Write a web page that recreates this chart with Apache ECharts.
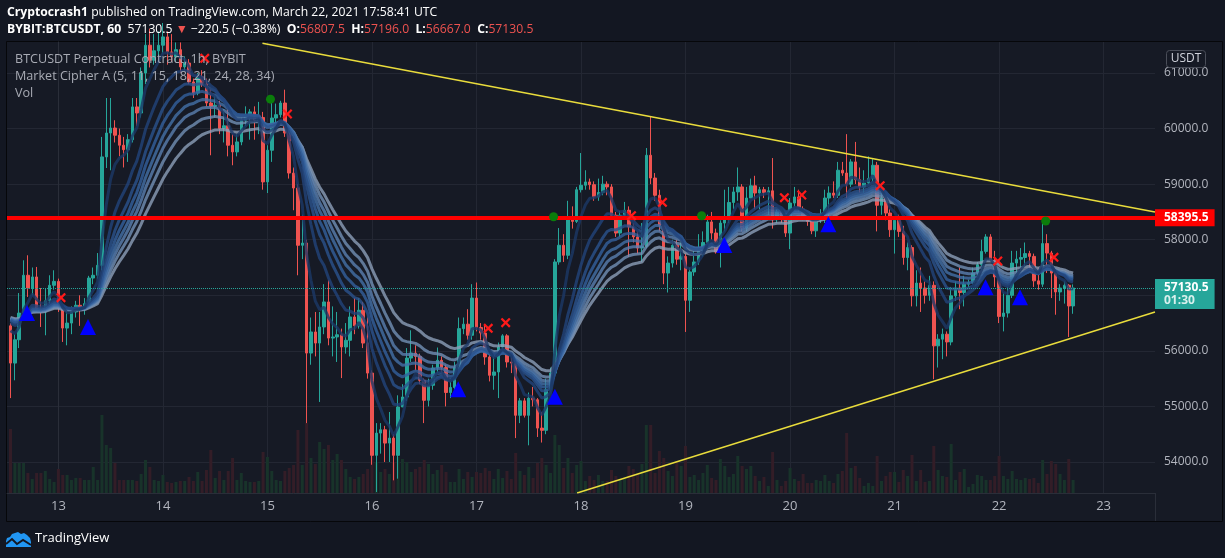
<!DOCTYPE html>
<html><head><meta charset="utf-8">
<script src="https://cdn.jsdelivr.net/npm/echarts@6.0.0/dist/echarts.min.js"></script>
<style>html,body{margin:0;padding:0;background:#131722;}#c{width:1225px;height:558px;}</style>
</head><body><div id="c"></div><script>
// hour offsets relative to March 13 00:00 UTC; first candle is March 12 13:00
const firstHour = -11;
// [open, close, low, high] hourly
const candles = [
[56450,55780,55150,56500],[55780,56200,55470,56300],[56200,56680,56050,57040],[56680,57360,56600,57630],
[57360,57130,56970,57720],[57130,57330,57000,57500],[57330,56740,56700,57510],[56740,56700,56430,57130],
[56700,56900,56280,57130],[56900,57180,56850,57360],[57180,57250,57100,57450],
[57250,56770,56700,57300],[56770,56410,56160,56850],[56410,56500,56100,56800],[56500,56700,56300,56800],
[56700,56820,56600,56900],[56820,56770,56450,57000],[56770,56850,56650,56950],[56850,57310,56800,57350],
[57310,57360,57200,57500],[57360,57540,57300,57760],[57540,59490,57450,59850],[59490,59920,59290,60550],
[59920,60010,59250,60550],[60010,59880,59750,60150],[59880,59700,59500,60000],[59700,59620,59300,59850],
[59620,59800,59400,59900],[59800,60390,59750,60550],[60390,60280,60050,60550],[60280,61000,60200,61100],
[61000,61500,60800,61700],[61500,61230,61100,61800],[61230,61400,61150,61700],[61400,61500,61300,61750],
[61500,61650,61350,61900],[61650,61380,61150,61750],[61380,61290,61200,61700],[61290,61420,61200,61550],
[61420,61110,61000,61550],[61110,61180,61050,61300],[61180,60840,60800,61250],[60840,60640,60550,60900],
[60640,60930,60600,61000],[60930,60800,60750,61050],[60800,60460,60400,60900],[60460,60400,59520,60700],
[60400,60420,60200,60600],[60420,60000,59900,60500],[60000,60050,59750,60350],[60050,59700,59500,60400],
[59700,59580,59340,59900],[59580,59760,59500,59900],[59760,60150,59700,60200],[60150,60220,60050,60400],
[60220,60300,59800,60350],[60300,60150,59800,60400],[60150,60200,59900,60480],[60200,59040,58900,60300],
[59040,59610,58840,59700],[59610,60190,59400,60510],[60190,60250,60100,60450],[60250,60460,60200,60500],
[60460,59920,59850,60700],[59920,59200,59100,60000],[59200,58930,58530,59300],[58930,57900,57360,59000],
[57900,57940,57650,58450],[57940,55960,54700,58000],[55960,56340,55750,56600],[56340,56140,55900,56700],
[56140,56430,55080,56700],[56430,56880,56300,57200],[56880,56230,56100,57270],[56230,56250,55900,56800],
[56250,56290,55800,56700],[56290,56070,55510,56400],[56070,56190,55950,56500],[56190,56610,55900,56800],
[56610,56450,56300,56950],[56450,56730,56400,56950],[56730,56140,56050,56880],[56140,55600,55500,56600],
[55600,54120,53950,55650],[54120,54520,53460,54700],[54520,54580,54150,54700],[54580,54340,54000,54650],
[54340,54430,54000,54900],[54430,54120,53670,54500],[54120,54990,53700,55200],[54990,55170,54990,55400],
[55170,55870,55100,56050],[55870,55960,55800,56370],[55960,55900,55650,56100],[55900,55470,55400,55950],
[55470,55110,54700,55500],[55110,55380,55000,55500],[55380,55690,55300,55750],[55690,55830,55600,56060],
[55830,55700,55600,55900],[55700,55250,55000,55750],[55250,55340,55150,55500],[55340,55700,55300,55800],
[55700,56400,55650,56600],[56400,56480,56300,56600],[56480,56280,56200,56750],[56280,56950,56200,57200],
[56950,56420,56350,57230],[56420,56320,56200,56500],[56320,55890,55750,56450],[55890,55560,55450,55950],
[55560,55620,55300,55900],[55620,56070,55150,56150],[56070,56270,55950,56300],[56270,55800,55700,56300],
[55800,55780,55600,55900],[55780,54840,54430,55800],[54840,55100,54700,55150],[55100,54840,54800,55150],
[54840,55150,54300,55250],[55150,55120,55000,55350],[55120,54610,54450,55150],[54610,54570,54350,54900],
[54570,55300,54500,55500],[55300,55600,55250,55700],[55600,57600,55500,57650],[57600,57900,57550,58210],
[57900,57720,57600,58100],[57720,58410,57650,58700],[58410,58330,58200,58600],[58330,58900,58300,58950],
[58900,58980,58850,59560],[58980,59040,58900,59250],[59040,58990,58900,59100],[58990,58770,58700,59050],
[58770,58850,58700,59100],[58850,59000,58800,59150],[59000,58950,58800,59050],[58950,58440,58400,59000],
[58440,58120,58050,58500],[58120,58440,58050,58520],[58440,58530,58400,58680],[58530,58230,57690,58600],
[58230,58050,57950,58300],[58050,57850,57750,58150],[57850,57880,57600,58300],[57880,59520,57850,59650],
[59520,59110,59000,60210],[59110,58800,58700,59200],[58800,58260,58150,58900],[58260,57400,57200,58400],
[57400,57580,57050,57700],[57580,57900,57500,58000],[57900,57650,57550,58000],[57650,57700,57450,57950],
[57700,56910,56340,57750],[56910,57420,56700,57500],[57420,57600,57350,57800],[57600,57810,57550,58100],
[57810,57950,57700,58150],[57950,58320,57850,58450],[58320,58120,58000,58500],[58120,57780,57750,58200],
[57780,58300,57500,58350],[58300,58360,58150,58900],[58360,58670,58300,58950],[58670,58860,58550,58950],
[58860,58950,58700,59300],[58950,58210,58150,59000],[58210,58750,58150,58950],[58750,58970,58750,59100],
[58970,58840,58550,59150],[58840,58900,58550,58950],[58900,58850,58750,58950],[58850,58880,58450,58950],
[58880,58360,58200,59470],[58360,58500,58300,58550],[58500,58400,58300,58550],[58400,58120,58050,58450],
[58120,58660,57830,58750],[58660,58770,58550,58950],[58770,58550,58500,58900],[58550,58410,58350,58600],
[58410,58330,58250,58450],[58330,58160,58100,58400],[58160,58350,58050,58450],[58350,58450,58300,58550],
[58450,58750,58300,58900],[58750,58840,58400,58960],[58840,58800,58750,59050],[58800,59250,58750,59400],
[59250,59200,59150,59400],[59200,59000,58750,59900],[59000,59400,58950,59450],[59400,59080,59000,59760],
[59080,58950,58850,59300],[58950,59020,58850,59250],[59020,59100,59000,59500],[59100,59340,59050,59450],
[59340,58620,58150,59400],[58620,58750,58450,58850],[58750,58480,58350,58800],[58480,58180,58050,58550],
[58180,58350,57750,58400],[58350,58150,58050,58450],[58150,57680,57550,58250],[57680,57860,57450,57950],
[57860,56990,56800,57900],[56990,57220,56800,57450],[57220,57130,56700,57500],[57130,57000,56850,57250],
[57000,57180,56900,57350],[57180,56090,55490,57250],[56090,56210,55700,56300],[56210,56300,55850,56400],
[56300,56160,55900,56350],[56160,56990,56100,57150],[56990,57130,56900,57250],[57130,57050,56750,57500],
[57050,57200,56800,57350],[57200,57230,57150,57280],[57230,57400,57200,57500],[57400,57550,57350,57600],
[57550,57790,57450,58000],[57790,58050,57750,58100],[58050,57630,57600,58100],[57630,57330,57150,57800],
[57330,56620,56500,57350],[56620,56680,56350,57050],[56680,57000,56600,57150],[57000,57580,56950,57800],
[57580,57650,57400,57800],[57650,57680,57450,57850],[57680,57750,57500,57950],[57750,57700,57450,57800],
[57700,57260,57150,57750],[57260,57200,57100,57500],[57200,57930,57150,58320],[57930,57760,57400,58100],
[57760,57400,56950,57800],[57400,57060,56650,57450],[57060,57130,56900,57200],[57130,57180,56850,57250],
[57180,56807.5,56250,57200],[56807.5,57130.5,56667,57196]
];
// relative volume per candle (arbitrary units)
const volumes = [
64,30,30,30,20,14,20,20,22,14,11,
24,18,18,13,15,15,13,13,26,13,
78,48,45,30,13,13,13,13,12,19,
33,26,13,12,18,11,10,11,12,12,
16,12,21,12,23,43,15,22,13,22,
35,13,20,12,11,11,12,41,36,22,
13,12,22,25,28,63,28,70,35,29,
51,44,48,33,39,33,24,16,14,16,
19,24,71,31,21,24,19,31,36,34,
31,21,24,26,33,29,19,23,28,21,
11,11,24,14,21,16,21,20,25,22,
14,24,15,22,14,40,22,18,26,15,
30,35,28,20,58,48,25,35,20,28,
32,12,17,13,18,12,12,23,17,13,
14,27,24,18,29,68,68,20,42,35,
22,17,32,27,47,16,18,13,20,28,
15,13,34,27,16,19,37,27,24,27,
17,12,16,7,41,13,7,12,25,14,
12,19,10,10,13,12,18,12,10,19,
22,60,25,27,15,7,10,7,37,12,
17,21,21,11,23,17,38,12,23,11,
12,47,23,17,16,49,13,21,24,6,
9,18,17,13,13,17,37,17,14,22,
14,13,15,14,15,10,33,19,32,29,
19,13,34,13
];
const dayTicks = [0,24,48,72,96,120,144,168,192,216,240];
const dayLabels = ['13','14','15','16','17','18','19','20','21','22','23'];
const priceTicks = [54000,55000,56000,57000,58000,59000,60000,61000];
const emaLengths = [5,11,15,18,21,24,28,34];
const emaSeed = 56650;
const blueTriangles = [[-7.2,56681],[6.8,56430],[91.8,55308],[114,55175],[152.9,57905],[176.8,58277],[212.9,57144],[220.8,56964]];
const greenDots = [[48.7,60530],[113.7,58414],[147.7,58432],[226.7,58337]];
const redCrosses = [[0.6,56957],[33.6,61264],[52.6,60262],[98.7,56406],[102.7,56507],[131.6,58432],[138.7,58673],[166.7,58756],[170.7,58805],[188.7,58972],[215.7,57617],[228.6,57683]];
const upperTrend = [[46.85,61534],[251.8,58499]];
const lowerTrend = [[119.1,53442],[251.8,56699]];
const levelPrice = 58395.5;
const lastPrice = 57130.5;
const countdown = '01:30';

const FONT = '"Open Sans", "Noto Sans", sans-serif';
const UP = '#26a69a', DOWN = '#ef5350';
const hours = candles.map((_, i) => firstHour + i);
const emaColors = ['#1c3866','#22447a','#2a528d','#33609e','#4470a8','#5a80b0','#7290b5','#8c9fb9'];

function ema(len) {
  const k = 2 / (len + 1); let e = emaSeed;
  return candles.map((c, i) => { e = c[1] * k + e * (1 - k); return [hours[i], e]; });
}

const chart = echarts.init(document.getElementById('c'));
const GL = 7, GR = 70, GT = 42, GB = 65;
const plotRight = 1225 - GR, plotBottom = 558 - GB;

const series = [];
series.push({
  type: 'bar', xAxisIndex: 0, yAxisIndex: 1, barWidth: 3, z: 1, silent: true,
  data: volumes.map((v, i) => ({ value: [hours[i], v], itemStyle: { color: candles[i][1] >= candles[i][0] ? '#18332a' : '#331d27' } }))
});
series.push({
  type: 'candlestick', barWidth: 3, z: 2, clip: true,
  encode: { x: 0, y: [1, 2, 3, 4] },
  itemStyle: { color: UP, color0: DOWN, borderColor: UP, borderColor0: DOWN, borderWidth: 1 },
  data: candles.map((c, i) => [hours[i], c[0], c[1], c[2], c[3]])
});
emaLengths.slice().reverse().forEach((len) => {
  const idx = emaLengths.indexOf(len);
  series.push({
    type: 'line', data: ema(len), showSymbol: false, symbol: 'none', z: 3, silent: true,
    lineStyle: { color: emaColors[idx], width: 3, opacity: 0.8 }
  });
});
series.push({
  type: 'line', data: upperTrend, showSymbol: false, symbol: 'none', z: 5, silent: true,
  lineStyle: { color: '#e9dc3c', width: 1.5 }
});
series.push({
  type: 'line', data: lowerTrend, showSymbol: false, symbol: 'none', z: 6, silent: true,
  lineStyle: { color: '#e9dc3c', width: 1.5 },
  markLine: {
    silent: true, symbol: ['none', 'none'], animation: false,
    data: [
      { yAxis: lastPrice, lineStyle: { color: UP, width: 1, type: 'dotted' },
        label: { show: true, position: 'end', distance: 0, offset: [0, 6],
          formatter: '{a|' + lastPrice.toFixed(1) + '}\n{b|' + countdown + '}',
          backgroundColor: UP, padding: [2, 6, 2, 9],
          rich: { a: { color: '#ffffff', fontSize: 12, fontWeight: 'bold', fontFamily: FONT, lineHeight: 13 },
                  b: { color: '#d8f0ed', fontSize: 12, fontWeight: 'bold', fontFamily: FONT, lineHeight: 13 } } } },
      { yAxis: levelPrice, lineStyle: { color: '#ff0000', width: 4, type: 'solid' },
        label: { show: true, position: 'end', distance: 0,
          formatter: levelPrice.toFixed(1), color: '#ffffff', fontSize: 12, fontWeight: 'bold', fontFamily: FONT,
          backgroundColor: '#ff0000', padding: [3, 6, 2, 9], lineHeight: 12 } }
    ]
  }
});
series.push({ type: 'scatter', data: blueTriangles, symbol: 'triangle', symbolSize: [16, 16], z: 20, silent: true, itemStyle: { color: '#0000ff', opacity: 1 } });
series.push({ type: 'scatter', data: greenDots, symbol: 'circle', symbolSize: 9, z: 20, silent: true, itemStyle: { color: '#0b7d0b', opacity: 1 } });
series.push({ type: 'scatter', data: redCrosses, z: 20, silent: true, symbolSize: 10,
  symbol: 'path://M0,1.6 L1.6,0 L5,3.4 L8.4,0 L10,1.6 L6.6,5 L10,8.4 L8.4,10 L5,6.6 L1.6,10 L0,8.4 L3.4,5 Z',
  itemStyle: { color: '#ff1a1a', opacity: 1 } });

const HF = 12.2, LF = 12.6;
const option = {
  animation: false,
  backgroundColor: '#131722',
  grid: { left: GL, right: GR, top: GT, bottom: GB, show: false },
  xAxis: {
    type: 'value', min: -11.8, max: 251.8,
    axisLine: { show: true, lineStyle: { color: '#2a2e39' } },
    axisTick: { show: false, customValues: dayTicks },
    axisLabel: { customValues: dayTicks, color: '#b2b5be', fontSize: 13, fontFamily: FONT, margin: 7,
      formatter: (v) => dayLabels[dayTicks.indexOf(v)] },
    splitLine: { show: true, lineStyle: { color: '#232733', width: 1 } }
  },
  yAxis: [{
    type: 'value', position: 'right', min: 53442, max: 61558, scale: true,
    axisLine: { show: true, lineStyle: { color: '#2a2e39' } },
    axisTick: { show: false, customValues: priceTicks },
    axisLabel: { customValues: priceTicks, color: '#b2b5be', fontSize: 12, fontFamily: FONT, margin: 9,
      formatter: (v) => v.toFixed(1) },
    splitLine: { show: true, lineStyle: { color: '#232733', width: 1 } }
  }, {
    type: 'value', min: 0, max: 451, show: false, splitLine: { show: false }
  }],
  series,
  graphic: [
    { type: 'rect', z: -100, silent: true, shape: { x: 6.5, y: 41.5, width: 1216, height: 480 },
      style: { fill: '#161a25', stroke: '#06070a', lineWidth: 1 } },
    { type: 'line', z: 100, silent: true, shape: { x1: plotRight + 0.5, y1: plotBottom, x2: plotRight + 0.5, y2: 521 },
      style: { stroke: '#2a2e39', lineWidth: 1 } },
    { type: 'text', x: 7, y: 5, z: 100, silent: true, style: {
      text: '{b|Cryptocrash1}{n| published on TradingView.com, March 22, 2021 17:58:41 UTC}',
      rich: { b: { fontFamily: FONT, fontSize: HF, fontWeight: 'bold', fill: '#ffffff', lineHeight: 16 },
              n: { fontFamily: FONT, fontSize: HF, fill: '#ffffff', lineHeight: 16 } } } },
    { type: 'text', x: 7, y: 22, z: 100, silent: true, style: {
      text: '{b|BYBIT:BTCUSDT, 60}{n|  57130.5 }{r|▼}{n| −220.5 (−0.38%)  }{b|O:}{r|56807.5}{b|  H:}{r|57196.0}{b|  L:}{r|56667.0}{b|  C:}{r|57130.5}',
      rich: { b: { fontFamily: FONT, fontSize: HF, fontWeight: 'bold', fill: '#ffffff', lineHeight: 16 },
              n: { fontFamily: FONT, fontSize: HF, fill: '#ffffff', lineHeight: 16 },
              r: { fontFamily: FONT, fontSize: HF, fill: '#ef5350', lineHeight: 16 } } } },
    { type: 'text', x: 15, y: 53, z: 100, silent: true, style: { text: 'BTCUSDT Perpetual Contract, 1h, BYBIT', fontFamily: FONT, fontSize: LF, fill: '#a8abb4' } },
    { type: 'text', x: 15, y: 70, z: 100, silent: true, style: { text: 'Market Cipher A (5, 11, 15, 18, 21, 24, 28, 34)', fontFamily: FONT, fontSize: LF, fill: '#a8abb4' } },
    { type: 'text', x: 15, y: 87, z: 100, silent: true, style: { text: 'Vol', fontFamily: FONT, fontSize: LF, fill: '#a8abb4' } },
    { type: 'rect', z: 100, silent: true, shape: { x: 1166.5, y: 50.5, width: 39, height: 17, r: 3 },
      style: { fill: '#161a25', stroke: '#4a4e59', lineWidth: 1 } },
    { type: 'text', z: 101, silent: true, x: 1186, y: 59, style: { text: 'USDT', fontFamily: FONT, fontSize: 12, fill: '#d1d4dc', align: 'center', verticalAlign: 'middle' } },
    { type: 'polygon', z: 100, silent: true, x: 6, y: 531,
      shape: { points: [[0,16],[0,10],[1,7],[4,6],[6,3],[9,2],[12,1],[15,3],[18,2],[21,4],[24,7],[25,11],[25,16]] },
      style: { fill: '#2196f3' } },
    { type: 'polyline', z: 101, silent: true, x: 6, y: 531,
      shape: { points: [[0,13],[6,8],[11,13],[17,9],[25,14]] },
      style: { stroke: '#131722', lineWidth: 2, fill: null } },
    { type: 'text', x: 35, y: 532, z: 100, silent: true, style: { text: 'TradingView', fontFamily: FONT, fontSize: 13, fill: '#ffffff' } }
  ]
};
chart.setOption(option);
</script></body></html>
